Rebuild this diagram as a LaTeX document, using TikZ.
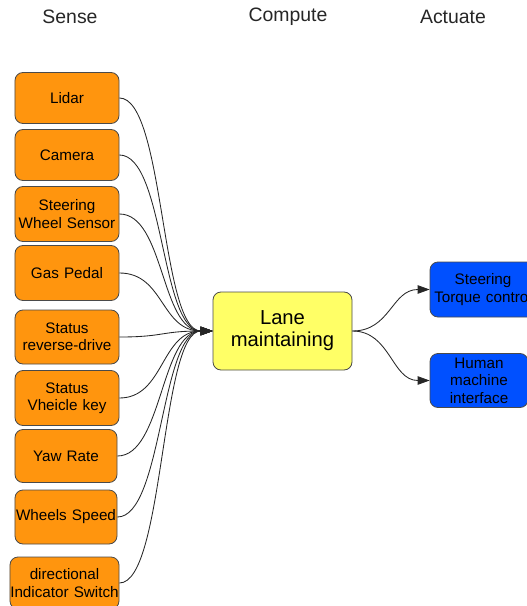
\documentclass[tikz,border=0pt]{standalone}
\usepackage{fontspec}
\setmainfont{Liberation Sans}
\usetikzlibrary{arrows.meta}
\definecolor{sensefill}{HTML}{FF950E}
\definecolor{computefill}{HTML}{FFFF66}
\definecolor{actfill}{HTML}{0050FF}
\definecolor{edgegray}{HTML}{4A4A4A}
\definecolor{wiregray}{HTML}{262626}
\begin{document}
\begin{tikzpicture}[x=1bp,y=-1bp,
  box/.style={draw=edgegray, line width=0.8bp, rounded corners=8bp,
    inner sep=0pt, align=center, text=black,
    font=\fontsize{15.3}{17.5}\selectfont},
  sensebox/.style={box, fill=sensefill, minimum width=104bp, minimum height=51bp, text width=104bp},
  actbox/.style={box, fill=actfill, minimum width=98bp, minimum height=54bp, text width=98bp},
  computebox/.style={box, fill=computefill, minimum width=139bp, minimum height=78bp,
    text width=139bp, font=\fontsize{20.3}{22}\selectfont},
  header/.style={text=black!85, font=\fontsize{19.5}{22}\selectfont},
  wire/.style={draw=wiregray, line width=0.85bp, -{Triangle[length=12bp,width=8.5bp]}}
]
\useasboundingbox (0,0) rectangle (527,606);

% column headers
\node[header] (hsense) at (70,17) {Sense};
\node[header] (hcompute) at (288,17) {Compute};
\node[header] (hactuate) at (453,17) {Actuate};

% sensors
\node[sensebox] (lidar) at (67,98) {Lidar};
\node[sensebox] (camera) at (67,155) {Camera};
\node[sensebox, minimum height=55bp] (wheel) at (67,214) {Steering\\Wheel Sensor};
\node[sensebox, minimum height=55bp] (gas) at (67,273) {Gas Pedal};
\node[sensebox, minimum height=54bp] (reverse) at (67,337) {Status\\reverse-drive};
\node[sensebox, minimum height=55bp] (key) at (67,398) {Status\\Vheicle key};
\node[sensebox, minimum height=53bp, minimum width=102bp, text width=102bp] (yaw) at (66,456) {Yaw Rate};
\node[sensebox, minimum height=54bp, minimum width=102bp, text width=102bp] (speed) at (66,517) {Wheels Speed};
\node[sensebox, minimum height=52bp, minimum width=109bp, text width=109bp] (indicator) at (64.5,583) {directional\\Indicator Switch};

% compute
\node[computebox] (lane) at (282.5,331) {Lane\\maintaining};

% actuators (the torque box runs past the right edge of the page)
\node[actbox, minimum height=55bp, minimum width=106bp, text width=106bp] (torque) at (483,289.5) {Steering\\Torque control};
\node[actbox] (hmi) at (479,380.5) {Human\\machine\\interface};

% sensor inputs into the lane keeping function
\foreach \s in {lidar,camera,wheel,gas,reverse,key,yaw,speed,indicator}
  \draw[wire] (\s.east) .. controls +(45,0) and +(-52,0) .. (lane.west);

% outputs to actuators
\draw[wire] (lane.east) .. controls +(38,0) and +(-38,0) .. (torque.west);
\draw[wire] (lane.east) .. controls +(38,0) and +(-38,0) .. (hmi.west);
\end{tikzpicture}
\end{document}
